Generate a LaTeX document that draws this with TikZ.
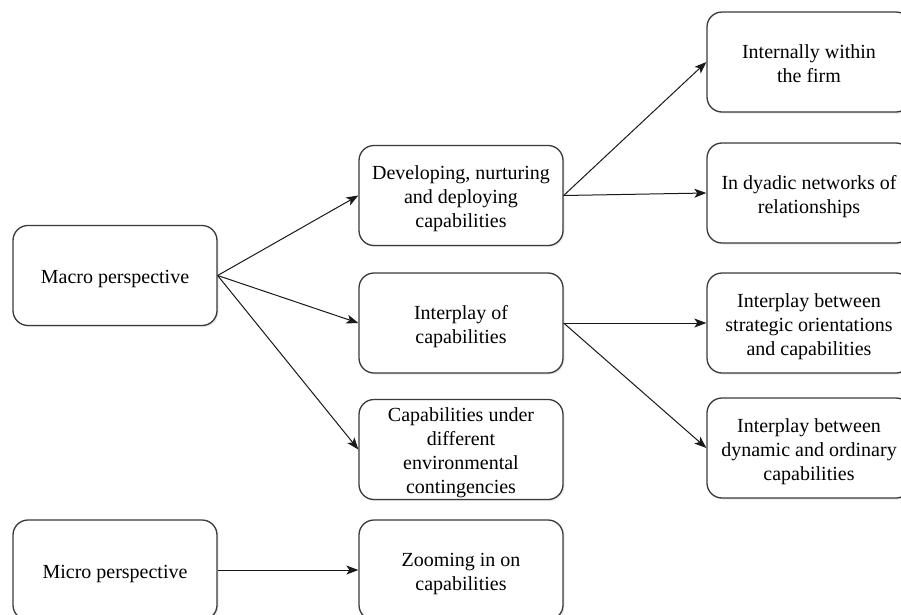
\documentclass[tikz,border=0pt]{standalone}
\usepackage{fontspec}
\setmainfont{Liberation Serif}
\usetikzlibrary{arrows.meta,shadows}
\definecolor{boxline}{HTML}{3A3A3A}
\newcommand\boxlines[1]{\raisebox{-3.5pt}[\height][\depth]{\begin{tabular}{@{}c@{}}#1\end{tabular}}}
\tikzset{
  box/.style={draw=boxline, line width=1.3pt, rounded corners=15pt, fill=white,
    minimum width=204pt, minimum height=100pt, align=center,
    font=\fontsize{20pt}{24pt}\selectfont, inner sep=2pt,
    execute at begin node={\rule{0pt}{21pt}},
    drop shadow={opacity=0.18, shadow xshift=1.5pt, shadow yshift=-1.5pt}},
  link/.style={line width=1pt, draw=black!90, -{Stealth[length=12pt,width=9pt,inset=3pt]}}
}
\begin{document}
\begin{tikzpicture}[x=1pt,y=-1pt]
\useasboundingbox (0,0) rectangle (901,614);
% left column
\node[box] (macro) at (115,275.5) {Macro perspective};
\node[box] (micro) at (115,570) {Micro perspective};
% middle column
\node[box] (dev) at (461,195.5) {\boxlines{Developing, nurturing\\and deploying\\capabilities}};
\node[box] (inter) at (461,323) {\boxlines{Interplay of\\capabilities}};
\node[box] (cap) at (461,449.5) {\boxlines{Capabilities under\\different\\environmental\\contingencies}};
\node[box] (zoom) at (461,570) {\boxlines{Zooming in on\\capabilities}};
% right column
\node[box] (intern) at (809,62) {\boxlines{Internally within\\the firm}};
\node[box] (dyad) at (809,193) {\boxlines{In dyadic networks of\\relationships}};
\node[box] (strat) at (809,323) {\boxlines{Interplay between\\strategic orientations\\and capabilities}};
\node[box] (dyn) at (809,448) {\boxlines{Interplay between\\dynamic and ordinary\\capabilities}};
% connectors
\draw[link] (macro.east) -- (dev.west);
\draw[link] (macro.east) -- (inter.west);
\draw[link] (macro.east) -- (cap.west);
\draw[link] (micro.east) -- (zoom.west);
\draw[link] (dev.east) -- (intern.west);
\draw[link] (dev.east) -- (dyad.west);
\draw[link] (inter.east) -- (strat.west);
\draw[link] (inter.east) -- (dyn.west);
\end{tikzpicture}
\end{document}
